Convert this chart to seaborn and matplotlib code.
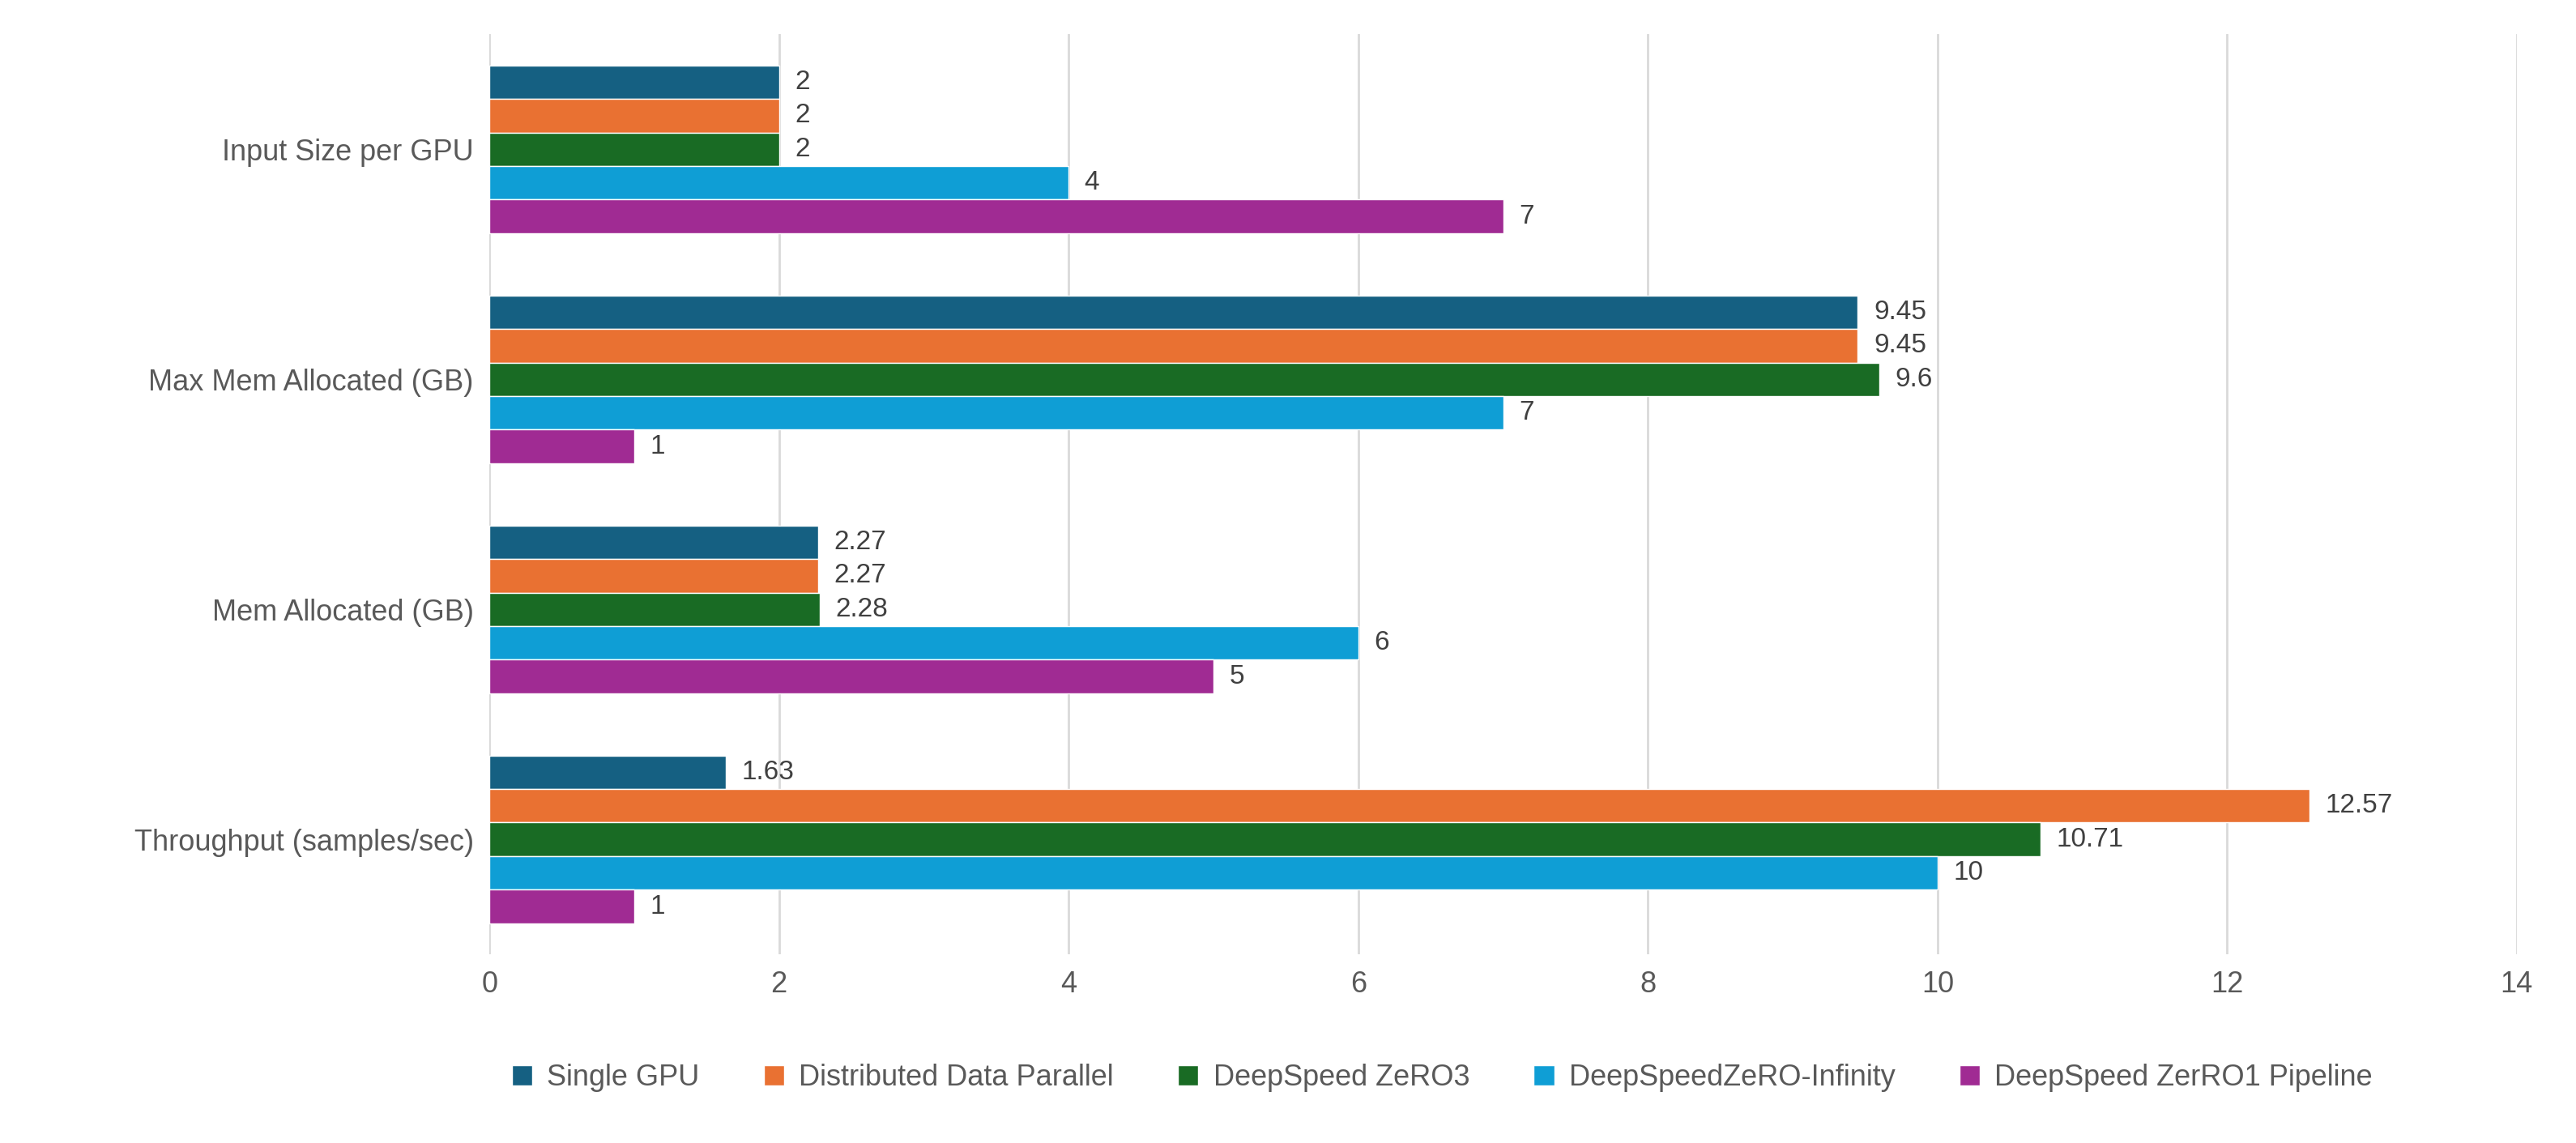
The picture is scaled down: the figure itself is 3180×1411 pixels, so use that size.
import pandas as pd
import matplotlib
matplotlib.use("Agg")
import matplotlib.pyplot as plt
import seaborn as sns

categorias = ["Input Size per GPU", "Max Mem Allocated (GB)", "Mem Allocated (GB)", "Throughput (samples/sec)"]
series = ["Single GPU", "Distributed Data Parallel", "DeepSpeed ZeRO3", "DeepSpeedZeRO-Infinity", "DeepSpeed ZerRO1 Pipeline"]
valores = {
    "Single GPU": [2, 9.45, 2.27, 1.63],
    "Distributed Data Parallel": [2, 9.45, 2.27, 12.57],
    "DeepSpeed ZeRO3": [2, 9.6, 2.28, 10.71],
    "DeepSpeedZeRO-Infinity": [4, 7, 6, 10],
    "DeepSpeed ZerRO1 Pipeline": [7, 1, 5, 1],
}
colores = ["#156082", "#E97132", "#196B24", "#0F9ED5", "#A02B93"]

filas = []
for s in series:
    for c, v in zip(categorias, valores[s]):
        filas.append({"Categoria": c, "Serie": s, "Valor": v})
df = pd.DataFrame(filas)

sns.set_theme(style="white")
plt.rcParams["font.family"] = ["Liberation Sans", "DejaVu Sans"]
fig, ax = plt.subplots(figsize=(31.8, 14.11), dpi=100)
sns.barplot(data=df, y="Categoria", x="Valor", hue="Serie", hue_order=series,
            order=categorias, palette=colores, orient="h", width=0.73, gap=0,
            saturation=1, ax=ax)

for cont in ax.containers:
    ax.bar_label(cont, labels=[f"{v:g}" for v in cont.datavalues], padding=14,
                 fontsize=24, color="#404040")

ax.set_xlim(0, 14)
ax.set_xticks(range(0, 15, 2))
ax.xaxis.grid(True, color="#D9D9D9", linewidth=2)
ax.set_axisbelow(True)
for sp in ax.spines.values():
    sp.set_visible(False)
ax.set_xlabel("")
ax.set_ylabel("")
ax.tick_params(axis="both", labelsize=26, labelcolor="#595959", length=0, pad=14)

ax.legend(loc="upper center", bbox_to_anchor=(0.47, -0.09), ncol=5, frameon=False,
          fontsize=26, handlelength=0.7, handleheight=0.7, columnspacing=2.2,
          handletextpad=0.5, labelcolor="#595959")
plt.subplots_adjust(left=0.19, right=0.977, top=0.97, bottom=0.165)
plt.savefig("out.png", dpi=100)
